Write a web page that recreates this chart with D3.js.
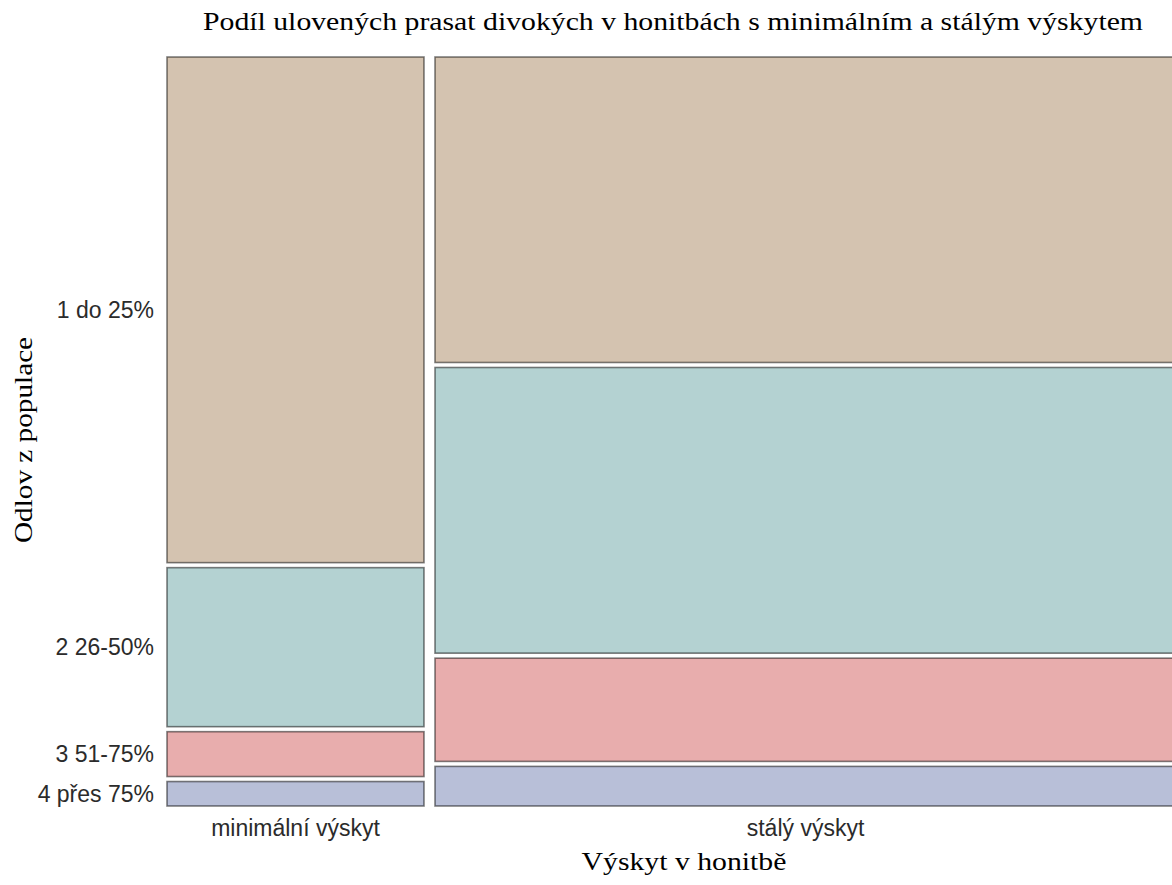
<!DOCTYPE html>
<html>
<head>
<meta charset="utf-8">
<script src="https://cdn.jsdelivr.net/npm/d3@7"></script>
<style>
  body { margin: 0; background: #fff; }
  svg { display: block; }
</style>
</head>
<body>
<div id="chart"></div>
<script>
// data (odhad počtů z obrázku)
const occurrence = ['minimální výskyt', 'stálý výskyt']
const harvestLevels = ['1 do 25%', '2 26-50%', '3 51-75%', '4 přes 75%']
const minimalCounts = [124, 39, 11, 6]
const stableCounts = [216, 202, 73, 28]
const levelColors = ['#d4c3b0', '#b4d2d2', '#e8adad', '#b8bfd8']

const width = 1172
const height = 885
const plot = { left: 167, right: 1176, top: 57, bottom: 806 }
const rowGap = 5
const colGap = 11

const svg = d3.select('#chart')
  .append('svg')
  .attr('width', width)
  .attr('height', height)

const counts = [minimalCounts, stableCounts]
const colTotals = counts.map(c => d3.sum(c))

// šířky sloupců podle počtu honiteb
const usableW = plot.right - plot.left - colGap * (occurrence.length - 1)
const x = d3.scaleLinear().domain([0, d3.sum(colTotals)]).range([0, usableW])

const tiles = []
let xOff = plot.left
occurrence.forEach((occ, i) => {
  const w = x(colTotals[i])
  const usableH = plot.bottom - plot.top - rowGap * (harvestLevels.length - 1)
  const y = d3.scaleLinear().domain([0, colTotals[i]]).range([0, usableH])
  let yOff = plot.top
  harvestLevels.forEach((lvl, j) => {
    const h = y(counts[i][j])
    tiles.push({ occ, lvl, col: i, row: j, x: xOff, y: yOff, w, h })
    yOff += h + rowGap
  })
  xOff += w + colGap
})

const g = svg.append('g')

g.selectAll('rect')
  .data(tiles)
  .enter().append('rect')
  .attr('x', d => d.x)
  .attr('y', d => d.y)
  .attr('width', d => d.w)
  .attr('height', d => d.h)
  .attr('fill', d => levelColors[d.row])
  .attr('stroke', 'rgba(0,0,0,0.5)')
  .attr('stroke-width', 1.6)

const sans = 'Liberation Sans, Arial, sans-serif'
const serif = 'Liberation Serif, Times New Roman, serif'

// popisky osy y - středy dlaždic prvního sloupce
g.selectAll('text.ylab')
  .data(tiles.filter(d => d.col === 0))
  .enter().append('text')
  .attr('class', 'ylab')
  .attr('x', 154)
  .attr('y', d => d.y + d.h / 2)
  .attr('dy', '0.35em')
  .attr('text-anchor', 'end')
  .attr('font-family', sans)
  .attr('font-size', 23)
  .attr('fill', '#2b2b2b')
  .text(d => d.lvl)

// popisky osy x
g.selectAll('text.xlab')
  .data(tiles.filter(d => d.row === 0))
  .enter().append('text')
  .attr('class', 'xlab')
  .attr('x', d => d.x + d.w / 2)
  .attr('y', 836)
  .attr('text-anchor', 'middle')
  .attr('font-family', sans)
  .attr('font-size', 23)
  .attr('fill', '#2b2b2b')
  .text(d => d.occ)

// nadpisy - patkové písmo, v originále roztažené do šířky
const serifText = (transform, txt) => svg.append('text')
  .attr('transform', transform)
  .attr('text-anchor', 'middle')
  .attr('font-family', serif)
  .attr('font-size', 25)
  .attr('fill', '#000')
  .text(txt)

serifText('translate(673,30) scale(1.19,1)',
  'Podíl ulovených prasat divokých v honitbách s minimálním a stálým výskytem')
serifText('translate(684,870) scale(1.19,1)', 'Výskyt v honitbě')
serifText('translate(32,440) rotate(-90) scale(1.17,1)', 'Odlov z populace')
</script>
</body>
</html>
